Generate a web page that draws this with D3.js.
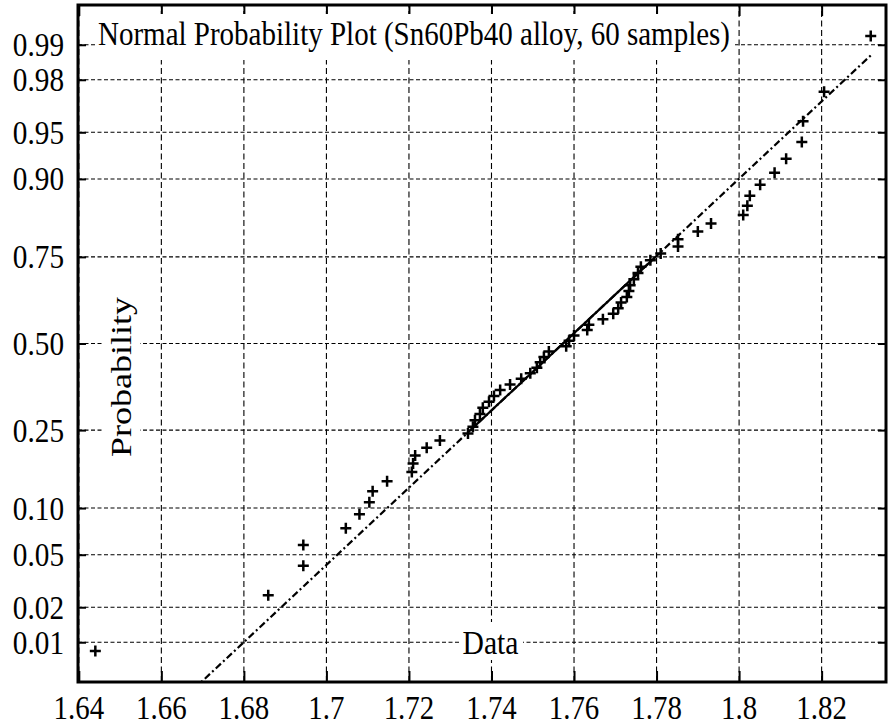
<!DOCTYPE html>
<html>
<head>
<meta charset="utf-8">
<script src="https://cdn.jsdelivr.net/npm/d3@7"></script>
<style>
  html, body { margin: 0; padding: 0; background: #fff; }
  svg { display: block; }
  text { font-family: "Liberation Serif", "Times New Roman", serif; fill: #000; }
</style>
</head>
<body>
<svg id="chart" width="892" height="726"></svg>
<script>
// Measured alloy values, sorted ascending (60 samples)
const sampleValues = [
  1.6440, 1.6859, 1.6944, 1.6944, 1.7047, 1.7080, 1.7104, 1.7112, 1.7147, 1.7207,
  1.7210, 1.7215, 1.7243, 1.7275, 1.7343, 1.7355, 1.7360, 1.7372, 1.7379, 1.7394,
  1.7406, 1.7421, 1.7445, 1.7472, 1.7494, 1.7510, 1.7518, 1.7527, 1.7539, 1.7581,
  1.7588, 1.7600, 1.7632, 1.7636, 1.7670, 1.7695, 1.7707, 1.7714, 1.7728, 1.7733,
  1.7736, 1.7745, 1.7755, 1.7762, 1.7785, 1.7810, 1.7852, 1.7852, 1.7900, 1.7932,
  1.8010, 1.8020, 1.8026, 1.8051, 1.8086, 1.8114, 1.8152, 1.8155, 1.8206, 1.8319
];
const xTickValues = [1.64, 1.66, 1.68, 1.70, 1.72, 1.74, 1.76, 1.78, 1.80, 1.82];
const probTickValues = [0.01, 0.02, 0.05, 0.10, 0.25, 0.50, 0.75, 0.90, 0.95, 0.98, 0.99];
const titleText = "Normal Probability Plot (Sn60Pb40 alloy, 60 samples)";
const xLabelText = "Data";
const yLabelText = "Probability";

// Inverse standard normal CDF (Acklam's rational approximation)
function probit(p) {
  const a = [-3.969683028665376e+01, 2.209460984245205e+02, -2.759285104469687e+02,
             1.383577518672690e+02, -3.066479806614716e+01, 2.506628277459239e+00];
  const b = [-5.447609879822406e+01, 1.615858368580409e+02, -1.556989798598866e+02,
             6.680131188771972e+01, -1.328068155288572e+01];
  const c = [-7.784894002430293e-03, -3.223964580411365e-01, -2.400758277161838e+00,
             -2.549732539343734e+00, 4.374664141464968e+00, 2.938163982698783e+00];
  const d = [7.784695709041462e-03, 3.224671290700398e-01, 2.445134137142996e+00,
             3.754408661907416e+00];
  const pl = 0.02425, ph = 1 - pl;
  let q, r;
  if (p < pl) {
    q = Math.sqrt(-2 * Math.log(p));
    return (((((c[0]*q+c[1])*q+c[2])*q+c[3])*q+c[4])*q+c[5]) /
           ((((d[0]*q+d[1])*q+d[2])*q+d[3])*q+1);
  }
  if (p <= ph) {
    q = p - 0.5; r = q * q;
    return (((((a[0]*r+a[1])*r+a[2])*r+a[3])*r+a[4])*r+a[5])*q /
           (((((b[0]*r+b[1])*r+b[2])*r+b[3])*r+b[4])*r+1);
  }
  q = Math.sqrt(-2 * Math.log(1 - p));
  return -(((((c[0]*q+c[1])*q+c[2])*q+c[3])*q+c[4])*q+c[5]) /
          ((((d[0]*q+d[1])*q+d[2])*q+d[3])*q+1);
}

const svg = d3.select("#chart");
const plot = { left: 78, right: 886, top: 5, bottom: 682 };

const x = d3.scaleLinear().domain([1.6398, 1.8356]).range([plot.left, plot.right]);
// Normal-quantile axis: probabilities are placed at their z-scores
const zScale = d3.scaleLinear().domain([-2.636, 2.636]).range([plot.bottom, plot.top]);
const y = p => zScale(probit(p));

// Plotting positions (i - 0.5) / n for the sorted samples
const n = sampleValues.length;
const points = sampleValues.map((v, i) => ({ v, p: (i + 0.5) / n }));

// Reference line through the first and third quartiles
function quantile(p) {
  const pos = n * p + 0.5;          // 1-based position
  const lo = Math.floor(pos), hi = Math.ceil(pos);
  const t = pos - lo;
  return sampleValues[lo - 1] * (1 - t) + sampleValues[hi - 1] * t;
}
const q1 = quantile(0.25), q3 = quantile(0.75);
const z1 = probit(0.25), z3 = probit(0.75);
const slope = (z3 - z1) / (q3 - q1);
const lineZ = v => z1 + (v - q1) * slope;
const xMin = d3.min(sampleValues), xMax = d3.max(sampleValues);

// Narrow, tall serif lettering: set a width factor after measuring each label
function condense(sel, factor) {
  sel.each(function () {
    const w = this.getComputedTextLength();
    d3.select(this).attr("textLength", w * factor).attr("lengthAdjust", "spacingAndGlyphs");
  });
}

svg.append("defs").append("clipPath").attr("id", "plotClip")
  .append("rect")
  .attr("x", plot.left).attr("y", plot.top)
  .attr("width", plot.right - plot.left).attr("height", plot.bottom - plot.top);

// Grid
const grid = svg.append("g").attr("stroke", "#000").attr("stroke-width", 1.1);
grid.selectAll("line.vx").data(xTickValues).join("line")
  .attr("stroke-dasharray", "6,3.5")
  .attr("x1", d => x(d)).attr("x2", d => x(d))
  .attr("y1", plot.bottom).attr("y2", plot.top);
grid.selectAll("line.hy").data(probTickValues).join("line")
  .attr("stroke-dasharray", "4,2.5")
  .attr("x1", plot.left).attr("x2", plot.right)
  .attr("y1", d => y(d)).attr("y2", d => y(d));

// Axes with inward ticks on all four sides
const bottomAxis = d3.axisTop(x).tickValues(xTickValues).tickSize(11).tickFormat("");
const topAxis = d3.axisBottom(x).tickValues(xTickValues).tickSize(11).tickFormat("");
const leftAxis = d3.axisRight(zScale).tickValues(probTickValues.map(probit)).tickSize(8).tickFormat("");
const rightAxis = d3.axisLeft(zScale).tickValues(probTickValues.map(probit)).tickSize(8).tickFormat("");
[[bottomAxis, `translate(0,${plot.bottom})`], [topAxis, `translate(0,${plot.top})`],
 [leftAxis, `translate(${plot.left},0)`], [rightAxis, `translate(${plot.right},0)`]]
  .forEach(([ax, tr]) => {
    const g = svg.append("g").attr("transform", tr).call(ax);
    g.select(".domain").remove();
    g.selectAll(".tick line").attr("stroke", "#000").attr("stroke-width", 2);
  });

// Title inside the plot on a white panel
svg.append("rect").attr("x", 95).attr("y", 14).attr("width", 640).attr("height", 46).attr("fill", "#fff");
svg.append("text").attr("x", 98).attr("y", 45)
  .attr("font-size", 34).attr("textLength", 632).attr("lengthAdjust", "spacingAndGlyphs")
  .text(titleText);

// Axis labels (drawn inside the frame)
svg.append("rect").attr("x", 459).attr("y", 622).attr("width", 64).attr("height", 38).attr("fill", "#fff");
svg.append("text").attr("x", 490.5).attr("y", 654).attr("text-anchor", "middle")
  .attr("font-size", 34).attr("textLength", 56).attr("lengthAdjust", "spacingAndGlyphs")
  .text(xLabelText);

svg.append("rect").attr("x", 104).attr("y", 294).attr("width", 36).attr("height", 166).attr("fill", "#fff");
svg.append("text").attr("transform", "translate(131,377) rotate(-90)").attr("text-anchor", "middle")
  .attr("font-size", 30).attr("textLength", 160).attr("lengthAdjust", "spacingAndGlyphs")
  .text(yLabelText);

// Reference line: dash-dot across the data range, solid between the quartiles
const lineG = svg.append("g").attr("clip-path", "url(#plotClip)")
  .attr("fill", "none").attr("stroke", "#000").attr("stroke-width", 2.2);
lineG.append("line")
  .attr("x1", x(xMin)).attr("y1", zScale(lineZ(xMin)))
  .attr("x2", x(xMax)).attr("y2", zScale(lineZ(xMax)))
  .attr("stroke-dasharray", "7,3,2,3");
lineG.append("line")
  .attr("x1", x(q1)).attr("y1", zScale(lineZ(q1)))
  .attr("x2", x(q3)).attr("y2", zScale(lineZ(q3)));

// Sample markers
const m = 5.5;
svg.append("g").attr("stroke", "#000").attr("stroke-width", 2.5)
  .selectAll("path").data(points).join("path")
  .attr("d", d => {
    const cx = x(d.v), cy = y(d.p);
    return `M${cx - m},${cy}H${cx + m}M${cx},${cy - m}V${cy + m}`;
  });

// Tick labels
svg.append("g").selectAll("text").data(xTickValues).join("text")
  .attr("x", d => x(d)).attr("y", 719).attr("text-anchor", "middle")
  .attr("font-size", 34)
  .text(d => d3.format("")(+d.toFixed(2)))
  .call(condense, 0.85);
svg.append("g").selectAll("text").data(probTickValues).join("text")
  .attr("x", 64).attr("y", d => y(d) + 11.5).attr("text-anchor", "end")
  .attr("font-size", 34)
  .text(d => d.toFixed(2))
  .call(condense, 0.86);

// Frame
svg.append("rect")
  .attr("x", plot.left).attr("y", plot.top)
  .attr("width", plot.right - plot.left).attr("height", plot.bottom - plot.top)
  .attr("fill", "none").attr("stroke", "#000").attr("stroke-width", 3);
</script>
</body>
</html>
